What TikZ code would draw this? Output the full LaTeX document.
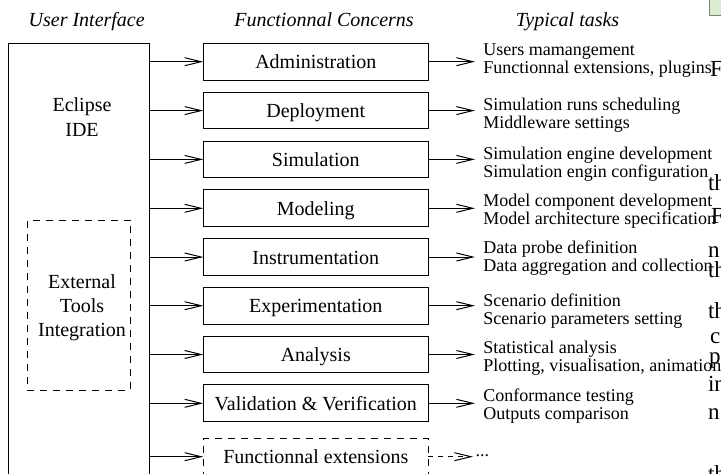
\documentclass[tikz,border=0pt]{standalone}
\usepackage{fontspec}
\setmainfont{Liberation Serif}
\usetikzlibrary{arrows.meta}
\newcommand\leftlines[2][18pt]{\vtop{\baselineskip=#1\lineskiplimit=-50pt\halign{##\hfil\cr#2\cr}}}
\newcommand\centerlines[2][24.3pt]{\vtop{\baselineskip=#1\lineskiplimit=-50pt\halign{\hfil##\hfil\cr#2\cr}}}
\definecolor{bleedgreen}{RGB}{214,238,206}
\begin{document}
\begin{tikzpicture}[x=1pt,y=-1pt,
  every node/.style={inner sep=0pt, outer sep=0pt},
  line width=1pt,
  arr/.style={-{Straight Barb[length=16.5pt,width=8pt]}},
  dasharr/.style={arr, dash pattern=on 5pt off 5pt},
  head/.style={font=\fontsize{20}{24}\selectfont\itshape, anchor=base},
  txt/.style={font=\fontsize{20}{24}\selectfont, anchor=base},
  concern/.style={draw, minimum width=225pt, minimum height=36.7pt,
    font=\fontsize{20}{24}\selectfont, text height=14pt, text depth=0pt},
  dconcern/.style={concern, dash pattern=on 7pt off 6pt},
  task/.style={font=\fontsize{18}{18}\selectfont, anchor=base west, inner xsep=8.3pt},
  bleed/.style={font=\fontsize{23}{26}\selectfont, anchor=base west}
]
\useasboundingbox (0,0) rectangle (721,474);
\clip (0,0) rectangle (721,474);

% headers
\node[head] (h1) at (86.7,26.7) {User Interface};
\node[head] (h2) at (324,26.7) {Functionnal Concerns};
\node[head] (h3) at (567.5,26.7) {Typical tasks};

% user interface
\node[draw, anchor=north west, minimum width=140.7pt, minimum height=460pt] (ui) at (8.3,43.3) {};
\node[txt] (ide) at (82,111.7) {\centerlines{Eclipse\cr IDE}};
\node[draw, dash pattern=on 7pt off 6pt, minimum width=103.4pt, minimum height=169.7pt] (ext) at (79,305.15) {};
\node[txt] (extt) at (82,288.3) {\centerlines[24pt]{External\cr Tools\cr Integration}};

% functional concerns
\node[concern] (b1) at (315.8,61.7) {Administration};
\node[concern] (b2) at (315.8,110.6) {Deployment};
\node[concern] (b3) at (315.8,159.4) {Simulation};
\node[concern] (b4) at (315.8,208.3) {Modeling};
\node[concern] (b5) at (315.8,257) {Instrumentation};
\node[concern] (b6) at (315.8,305.7) {Experimentation};
\node[concern] (b7) at (315.8,354.5) {Analysis};
\node[concern] (b8) at (315.8,403.3) {Validation \& Verification};
\node[dconcern] (b9) at (315.8,456.7) {Functionnal extensions};

% typical tasks
\node[task] (t1) at (475,55) {\leftlines{Users mamangement\cr Functionnal extensions, plugins}};
\node[task] (t2) at (475,110) {\leftlines{Simulation runs scheduling\cr Middleware settings}};
\node[task] (t3) at (475,159) {\leftlines{Simulation engine development\cr Simulation engin configuration}};
\node[task] (t4) at (475,206.5) {\leftlines{Model component development\cr Model architecture specification}};
\node[task] (t5) at (475,253.3) {\leftlines{Data probe definition\cr Data aggregation and collection}};
\node[task] (t6) at (475,306) {\leftlines{Scenario definition\cr Scenario parameters setting}};
\node[task] (t7) at (475,353.5) {\leftlines{Statistical analysis\cr Plotting, visualisation, animation}};
\node[task] (t8) at (475,401.7) {\leftlines{Conformance testing\cr Outputs comparison}};
\node[task, inner xsep=2.5pt] (t9) at (473,456) {...};

% connectors
\foreach \i in {1,...,9} {
  \draw[arr] (b\i.west -| ui.east) -- (b\i.west);
}
\foreach \i in {1,...,8} {
  \draw[arr] (b\i.east) -- (b\i.east -| t\i.west);
}
\draw[dasharr] (b9.east) -- (b9.east -| t9.west);

% page bleed at the right edge
\fill[bleedgreen] (709.3,0) rectangle (721,15);
\draw[gray, line width=0.8pt] (709.3,0) -- (709.3,15) -- (721,15);
\node[bleed] (p1) at (710,76) {F};
\node[bleed] (p2) at (708,190) {th};
\node[bleed] (p3) at (711,223) {F};
\node[bleed] (p4) at (708,257) {n};
\node[bleed] (p5) at (708,277) {th};
\node[bleed] (p6) at (708,318) {th};
\node[bleed] (p7) at (710,343) {c};
\node[bleed] (p8) at (709,363) {p};
\node[bleed] (p9) at (708,391) {in};
\node[bleed] (p10) at (708,419) {n};
\node[bleed] (p11) at (708,481) {th};
\end{tikzpicture}
\end{document}
